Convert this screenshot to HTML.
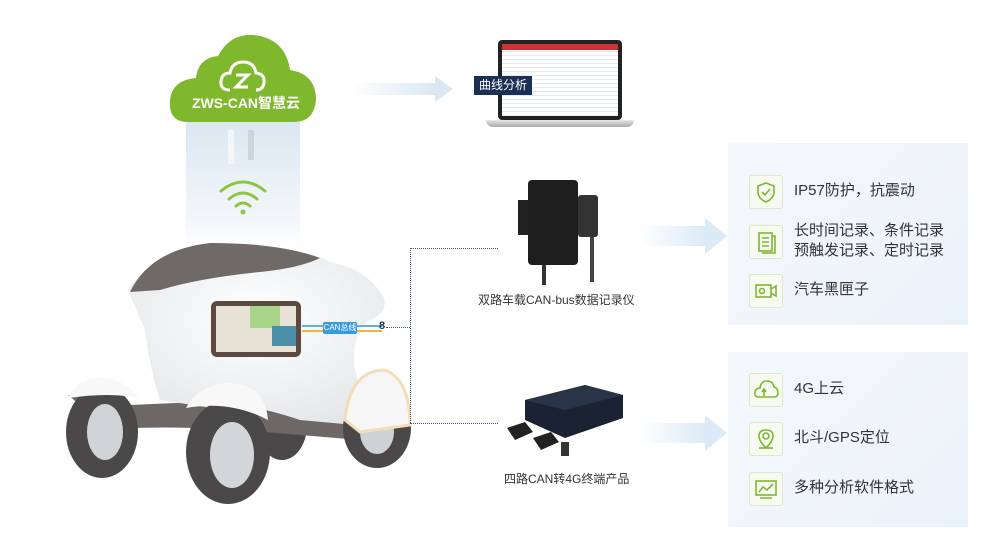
<!DOCTYPE html>
<html><head><meta charset="utf-8"><style>
body{margin:0;width:1000px;height:560px;background:#fff;position:relative;overflow:hidden;font-family:"Liberation Sans","Noto Sans CJK SC",sans-serif}
.abs{position:absolute}
.panel{position:absolute;left:728px;width:240px;background:linear-gradient(135deg,#f4f8fc,#eaf2f9)}
.ic{position:absolute;left:21px;width:32px;height:32px;border:1px solid #dbe9c8;border-radius:3px;background:#f6faf0}
.tx{position:absolute;left:66px;font-size:15px;color:#333;line-height:20px;white-space:nowrap}
.lbl{position:absolute;font-size:12px;color:#333;white-space:nowrap}
</style></head><body>
<!-- light column -->
<div class="abs" style="left:186px;top:118px;width:114px;height:130px;background:linear-gradient(#dbe6f0,#f3f7fb 80%,#fff)"></div>
<div class="abs" style="left:228px;top:130px;width:6px;height:34px;background:#f4f7fa"></div>
<div class="abs" style="left:248px;top:130px;width:6px;height:30px;background:#c9d6e2"></div>
<!-- wifi -->
<svg class="abs" style="left:215px;top:175px" width="56" height="40"><g fill="none" stroke="#8cc63f" stroke-width="3" stroke-linecap="round"><path d="M6 16 Q28 -2 50 16"/><path d="M14 24 Q28 12 42 24"/><path d="M21 31 Q28 25 35 31"/></g><circle cx="28" cy="37" r="2.5" fill="#8cc63f"/></svg>
<!-- cloud -->
<svg class="abs" style="left:168px;top:30px" width="152" height="95"><path d="M20 92 Q0 92 2 70 Q4 50 28 48 Q30 28 50 26 Q64 0 92 6 Q118 12 122 40 Q148 44 148 70 Q146 92 126 92 Z" fill="#7fb82c"/></svg>
<svg class="abs" style="left:218px;top:58px" width="50" height="36"><g fill="none" stroke="#fff" stroke-width="3"><path d="M12 32 Q2 32 3 23 Q4 15 12 15 Q14 4 25 4 Q36 4 38 15 Q47 16 46 25 Q45 32 38 32"/><path d="M18 17 L30 17 L18 29 L30 29"/></g></svg>
<div class="abs" style="left:186px;top:93px;width:120px;text-align:center;color:#fff;font-size:14px;font-weight:bold">ZWS-CAN智慧云</div>
<!-- arrow to laptop -->
<div class="abs" style="left:350px;top:83px;width:85px;height:12px;background:linear-gradient(90deg,#fff,#dce7f1)"></div>
<div class="abs" style="left:435px;top:76px;width:0;height:0;border-top:13px solid transparent;border-bottom:13px solid transparent;border-left:18px solid #dce7f1"></div>
<!-- laptop -->
<div class="abs" style="left:498px;top:40px;width:124px;height:80px;background:#222;border-radius:4px"></div>
<div class="abs" style="left:502px;top:44px;width:116px;height:72px;background:repeating-linear-gradient(#fff 0 3px,#e5ecf3 3px 4px)"></div>
<div class="abs" style="left:502px;top:44px;width:116px;height:6px;background:#c33"></div>
<div class="abs" style="left:486px;top:120px;width:148px;height:7px;background:linear-gradient(#e8e8e8,#aaa);border-radius:0 0 8px 8px"></div>
<div class="abs" style="left:474px;top:76px;width:58px;height:19px;background:#1c2f55;color:#fff;font-size:12px;line-height:19px;text-align:center">曲线分析</div>
<!-- car -->
<svg class="abs" style="left:0;top:0" width="440" height="520">
<defs><radialGradient id="b" cx="50%" cy="40%" r="70%"><stop offset="0" stop-color="#fff"/><stop offset="1" stop-color="#e2e5e8"/></radialGradient></defs>
<!-- hidden wheels -->
<ellipse cx="282" cy="425" rx="25" ry="35" fill="#4a4848"/>
<!-- skirt -->
<path d="M68 395 Q100 400 130 405 L355 395 L360 440 L240 430 Q150 425 110 430 Z" fill="#6d6866"/>
<!-- body -->
<path d="M128 290 Q150 255 220 248 Q300 245 330 262 Q370 270 385 300 Q385 315 370 320 Q350 335 355 370 Q365 400 355 425 L300 420 Q240 400 225 410 L160 400 Q150 370 145 330 Z" fill="url(#b)"/>
<!-- roof -->
<path d="M130 292 Q150 250 210 243 Q280 243 320 258 Q300 268 260 272 Q200 278 160 290 Z" fill="#6f6a68"/>
<!-- rear-right wheel -->
<ellipse cx="377" cy="428" rx="34" ry="40" fill="#4a4848"/><ellipse cx="377" cy="432" rx="17" ry="22" fill="#cfd2d5"/>
<path d="M345 420 Q350 370 385 370 Q410 380 410 425 L360 432 Z" fill="#f6f6f6" stroke="#f5dcb8" stroke-width="3"/>
<!-- front-left wheel -->
<ellipse cx="102" cy="432" rx="36" ry="46" fill="#4a4848"/><ellipse cx="105" cy="432" rx="18" ry="28" fill="#d0d3d6"/>
<path d="M68 398 Q80 375 105 378 Q130 382 138 398 Q110 392 68 398 Z" fill="#f8f8f8"/>
<!-- front wheel -->
<ellipse cx="228" cy="452" rx="42" ry="52" fill="#4a4848"/><ellipse cx="232" cy="455" rx="22" ry="33" fill="#d3d6d9"/>
<path d="M186 408 Q200 383 232 383 Q265 385 268 420 Q230 400 186 408 Z" fill="#f8f8f8"/>
</svg>
<!-- map screen -->
<div class="abs" style="left:211px;top:301px;width:90px;height:56px;background:#5a4a40;border-radius:6px"></div>
<div class="abs" style="left:216px;top:306px;width:80px;height:46px;background:#e8e2d6"></div>
<div class="abs" style="left:250px;top:306px;width:30px;height:22px;background:#a8d48a"></div>
<div class="abs" style="left:272px;top:326px;width:24px;height:20px;background:#4a8ea8"></div>
<!-- CAN bus -->
<div class="abs" style="left:302px;top:325px;width:80px;height:2px;background:#5fb0e0"></div>
<div class="abs" style="left:302px;top:330px;width:80px;height:2px;background:#f3b23c"></div>
<div class="abs" style="left:323px;top:322px;width:34px;height:12px;background:#3a9ae0;color:#fff;font-size:8px;line-height:12px;text-align:center;border-radius:2px">CAN总线</div>
<div class="abs" style="left:379px;top:320px;font-size:11px;color:#1c2f55;font-weight:bold">8</div>
<!-- dotted -->
<div class="abs" style="left:386px;top:327px;width:24px;border-top:1px dotted #3a4f80"></div>
<div class="abs" style="left:410px;top:248px;height:175px;border-left:1px dotted #3a4f80"></div>
<div class="abs" style="left:410px;top:248px;width:88px;border-top:1px dotted #3a4f80"></div>
<div class="abs" style="left:410px;top:423px;width:88px;border-top:1px dotted #3a4f80"></div>
<!-- recorder -->
<div class="abs" style="left:518px;top:200px;width:12px;height:35px;background:#222"></div>
<div class="abs" style="left:528px;top:180px;width:50px;height:85px;background:#1e1e1e;border-radius:4px"></div>
<div class="abs" style="left:578px;top:195px;width:20px;height:42px;background:#333;border-radius:3px"></div>
<div class="abs" style="left:542px;top:265px;width:4px;height:20px;background:#333"></div>
<div class="abs" style="left:590px;top:237px;width:4px;height:45px;background:#444"></div>
<div class="lbl" style="left:478px;top:291px">双路车载CAN-bus数据记录仪</div>
<!-- 4G box -->
<svg class="abs" style="left:495px;top:380px" width="130" height="85"><path d="M30 20 L90 5 L128 15 L128 38 L70 58 L30 40 Z" fill="#1a2233"/><path d="M30 20 L70 30 L128 15 L90 5 Z" fill="#2a3448"/><path d="M12 48 L30 42 L38 52 L20 60 Z" fill="#222"/><path d="M38 58 L56 52 L64 62 L46 70 Z" fill="#222"/><rect x="66" y="62" width="8" height="14" fill="#333"/></svg>
<div class="lbl" style="left:504px;top:470px">四路CAN转4G终端产品</div>
<!-- big arrows -->
<div class="abs" style="left:640px;top:226px;width:65px;height:20px;background:linear-gradient(90deg,#fff,#dbeaf6)"></div>
<div class="abs" style="left:705px;top:218px;border-top:18px solid transparent;border-bottom:18px solid transparent;border-left:22px solid #dbeaf6"></div>
<div class="abs" style="left:640px;top:423px;width:65px;height:20px;background:linear-gradient(90deg,#fff,#dbeaf6)"></div>
<div class="abs" style="left:705px;top:415px;border-top:18px solid transparent;border-bottom:18px solid transparent;border-left:22px solid #dbeaf6"></div>
<!-- panels -->
<div class="panel" style="top:143px;height:182px">
<div class="ic" style="top:32px"><svg width="32" height="32"><path d="M16 7 L24 10 L24 17 Q23 23 16 26 Q9 23 8 17 L8 10 Z M12 16 L15 19 L20 13" fill="none" stroke="#7cb82f" stroke-width="1.6"/></svg></div>
<div class="tx" style="top:38px">IP57防护，抗震动</div>
<div class="ic" style="top:82px"><svg width="32" height="32"><g fill="none" stroke="#7cb82f" stroke-width="1.6"><rect x="9" y="7" width="13" height="18"/><path d="M22 10 L25 10 L25 27 L12 27 M12 12 H19 M12 16 H19 M12 20 H19"/></g></svg></div>
<div class="tx" style="top:78px">长时间记录、条件记录<br>预触发记录、定时记录</div>
<div class="ic" style="top:131px"><svg width="32" height="32"><g fill="none" stroke="#7cb82f" stroke-width="1.6"><rect x="6" y="10" width="15" height="12"/><circle cx="12" cy="16" r="2.5"/><path d="M21 14 L26 11 L26 21 L21 18"/></g></svg></div>
<div class="tx" style="top:137px">汽车黑匣子</div>
</div>
<div class="panel" style="top:352px;height:175px">
<div class="ic" style="top:21px"><svg width="32" height="32"><g fill="none" stroke="#7cb82f" stroke-width="1.6"><path d="M9 23 Q4 23 5 18 Q6 14 10 14 Q11 7 17 7 Q23 7 24 13 Q28 14 28 19 Q28 23 24 23 Z M14 22 V16 M12 18 L14 15 L16 18"/></g></svg></div>
<div class="tx" style="top:27px">4G上云</div>
<div class="ic" style="top:70px"><svg width="32" height="32"><g fill="none" stroke="#7cb82f" stroke-width="1.6"><path d="M16 25 Q9 18 9 13 Q9 7 16 7 Q23 7 23 13 Q23 18 16 25 Z"/><circle cx="16" cy="13" r="3"/><path d="M9 25 H23"/></g></svg></div>
<div class="tx" style="top:76px">北斗/GPS定位</div>
<div class="ic" style="top:120px"><svg width="32" height="32"><g fill="none" stroke="#7cb82f" stroke-width="1.6"><rect x="6" y="8" width="20" height="14"/><path d="M9 19 L13 14 L17 17 L23 11 M10 25 H22"/></g></svg></div>
<div class="tx" style="top:126px">多种分析软件格式</div>
</div>
</body></html>
